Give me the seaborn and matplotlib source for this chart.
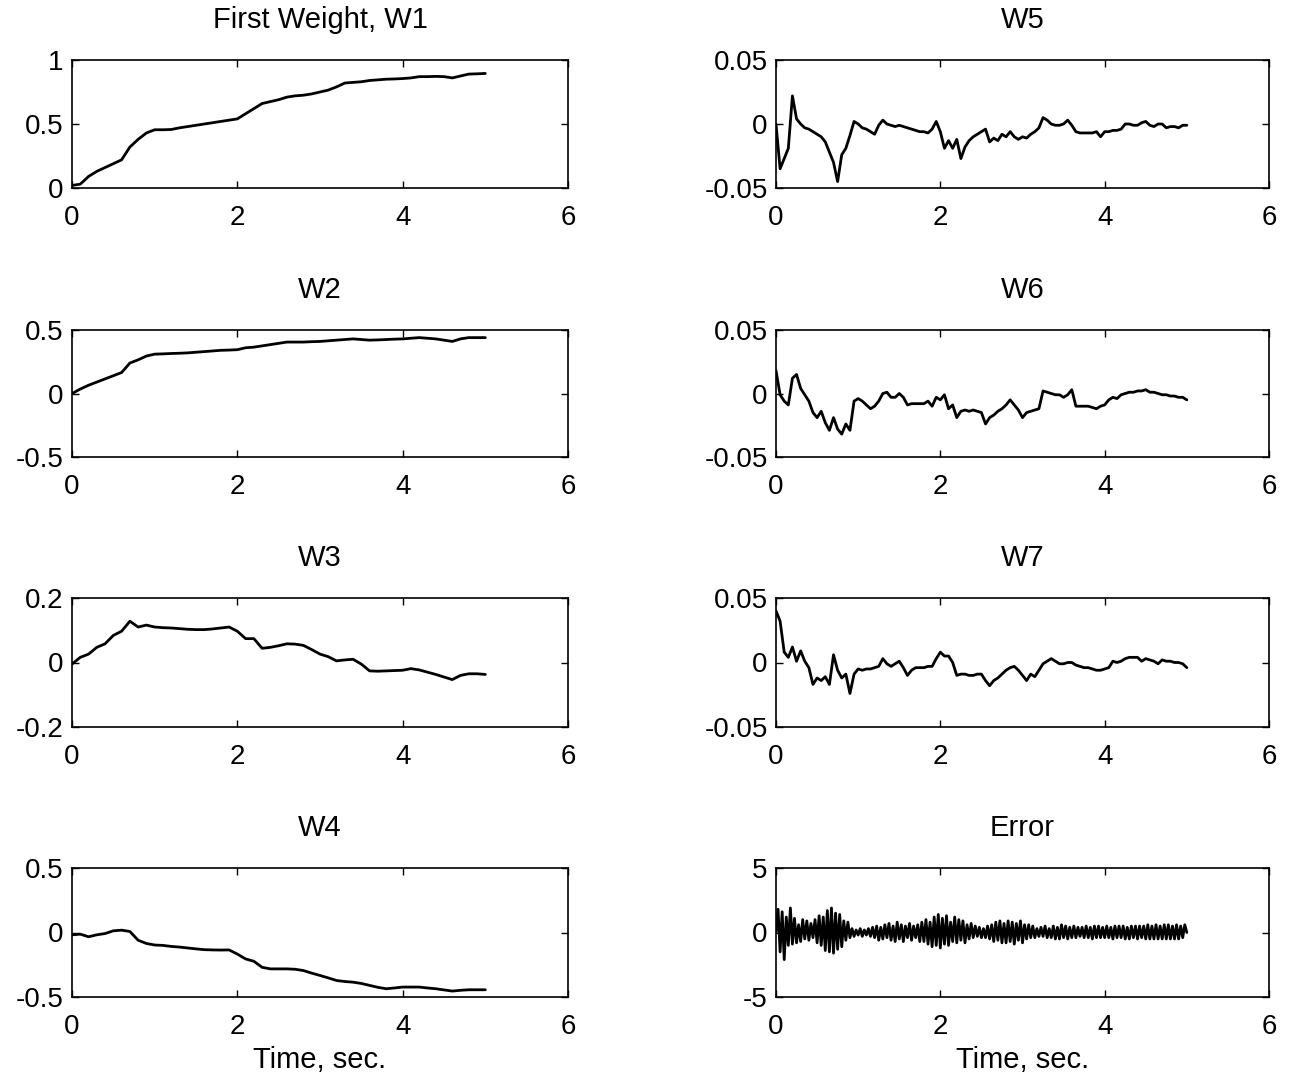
import numpy as np
import matplotlib
matplotlib.use("Agg")
import matplotlib.pyplot as plt
import seaborn as sns

# time grids (sec)
t_smooth = np.arange(51) * 0.1
t_noisy = np.arange(101) * 0.05
t_err = np.arange(201) * 0.025

# values
w1 = [0.02, 0.03, 0.09, 0.13, 0.16, 0.19, 0.22, 0.32, 0.38, 0.43,
      0.455, 0.455, 0.457, 0.47, 0.48, 0.49, 0.50, 0.51, 0.52, 0.53,
      0.54, 0.58, 0.62, 0.66, 0.675, 0.69, 0.71, 0.72, 0.725, 0.735,
      0.75, 0.765, 0.79, 0.82, 0.825, 0.83, 0.84, 0.845, 0.85, 0.852,
      0.855, 0.86, 0.87, 0.87, 0.872, 0.87, 0.86, 0.875, 0.89, 0.892, 0.895]

w2 = [0.0, 0.035, 0.065, 0.09, 0.115, 0.14, 0.165, 0.24, 0.265, 0.295,
      0.31, 0.312, 0.315, 0.317, 0.32, 0.325, 0.33, 0.335, 0.34, 0.342,
      0.345, 0.36, 0.365, 0.375, 0.385, 0.395, 0.405, 0.405, 0.405, 0.408,
      0.41, 0.415, 0.42, 0.425, 0.43, 0.425, 0.42, 0.422, 0.425, 0.428,
      0.43, 0.435, 0.44, 0.435, 0.43, 0.42, 0.41, 0.43, 0.44, 0.44, 0.44]

w3 = [-0.005, 0.016, 0.026, 0.047, 0.058, 0.084, 0.097, 0.128, 0.11, 0.116,
      0.11, 0.108, 0.107, 0.105, 0.103, 0.102, 0.102, 0.104, 0.107, 0.11,
      0.097, 0.074, 0.074, 0.044, 0.047, 0.052, 0.058, 0.057, 0.053, 0.04,
      0.026, 0.018, 0.005, 0.008, 0.01, -0.005, -0.026, -0.027, -0.026, -0.025,
      -0.024, -0.019, -0.023, -0.03, -0.037, -0.045, -0.053, -0.04, -0.035, -0.035, -0.037]

w4 = [-0.018, -0.013, -0.033, -0.018, -0.008, 0.013, 0.018, 0.008, -0.06, -0.085,
      -0.097, -0.1, -0.108, -0.113, -0.12, -0.127, -0.133, -0.135, -0.136, -0.135,
      -0.167, -0.205, -0.223, -0.27, -0.282, -0.282, -0.282, -0.285, -0.295, -0.315,
      -0.333, -0.352, -0.372, -0.38, -0.385, -0.395, -0.41, -0.425, -0.436, -0.43,
      -0.423, -0.423, -0.423, -0.43, -0.436, -0.445, -0.454, -0.448, -0.444, -0.444, -0.444]

w5 = [0.000, -0.035, -0.027, -0.019, 0.022, 0.004, 0.000, -0.003, -0.004, -0.006,
      -0.008, -0.010, -0.014, -0.022, -0.030, -0.045, -0.024, -0.019, -0.009, 0.002,
      0.000, -0.003, -0.004, -0.006, -0.008, -0.001, 0.003, 0.000, -0.001, -0.002,
      -0.001, -0.002, -0.003, -0.004, -0.005, -0.006, -0.006, -0.007, -0.004, 0.002,
      -0.006, -0.019, -0.013, -0.019, -0.012, -0.027, -0.018, -0.013, -0.010, -0.008,
      -0.006, -0.004, -0.014, -0.011, -0.013, -0.008, -0.010, -0.006, -0.010, -0.012,
      -0.010, -0.011, -0.008, -0.006, -0.003, 0.005, 0.003, 0.000, -0.001, -0.001,
      0.000, 0.003, -0.001, -0.006, -0.007, -0.007, -0.007, -0.007, -0.006, -0.010,
      -0.006, -0.006, -0.005, -0.005, -0.004, 0.000, 0.000, -0.001, -0.001, 0.001,
      0.002, -0.001, -0.002, 0.000, 0.000, -0.003, -0.002, -0.002, -0.003, -0.001, -0.001]

w6 = [0.018, -0.001, -0.006, -0.009, 0.012, 0.015, 0.004, -0.001, -0.006, -0.015,
      -0.019, -0.014, -0.023, -0.029, -0.019, -0.028, -0.032, -0.024, -0.029, -0.006,
      -0.004, -0.006, -0.009, -0.012, -0.010, -0.006, 0.000, 0.001, -0.003, -0.003,
      0.000, -0.003, -0.009, -0.008, -0.008, -0.008, -0.008, -0.006, -0.010, -0.003,
      -0.005, -0.001, -0.012, -0.009, -0.019, -0.014, -0.013, -0.014, -0.013, -0.014,
      -0.015, -0.024, -0.019, -0.017, -0.014, -0.012, -0.009, -0.005, -0.009, -0.013,
      -0.019, -0.015, -0.014, -0.013, -0.012, 0.002, 0.001, 0.000, -0.001, -0.001,
      -0.003, -0.001, 0.003, -0.010, -0.010, -0.010, -0.010, -0.011, -0.012, -0.010,
      -0.009, -0.005, -0.003, -0.004, -0.001, 0.000, 0.001, 0.001, 0.002, 0.002,
      0.003, 0.001, 0.001, 0.000, -0.001, -0.001, -0.002, -0.002, -0.003, -0.003, -0.005]

w7 = [0.040, 0.032, 0.008, 0.004, 0.012, 0.001, 0.009, 0.001, -0.004, -0.017,
      -0.012, -0.014, -0.011, -0.017, 0.006, -0.006, -0.012, -0.009, -0.024, -0.009,
      -0.005, -0.006, -0.005, -0.005, -0.004, -0.003, 0.003, -0.001, -0.003, -0.001,
      0.001, -0.004, -0.010, -0.006, -0.004, -0.004, -0.004, -0.003, -0.003, 0.003,
      0.008, 0.005, 0.005, 0.000, -0.010, -0.009, -0.009, -0.010, -0.010, -0.009,
      -0.009, -0.014, -0.018, -0.014, -0.012, -0.009, -0.006, -0.004, -0.003, -0.006,
      -0.010, -0.014, -0.009, -0.011, -0.006, -0.001, 0.001, 0.003, 0.001, -0.001,
      -0.001, 0.000, 0.000, -0.002, -0.003, -0.004, -0.004, -0.005, -0.006, -0.006,
      -0.005, -0.004, 0.001, 0.000, 0.001, 0.003, 0.004, 0.004, 0.004, 0.001,
      0.003, 0.002, 0.001, -0.001, 0.002, 0.001, 0.001, 0.000, 0.000, -0.001, -0.004]

err = [0.0, 1.8, -1.5, 1.6, -2.1, 1.2, -1.0, 1.9,
       -0.9, 1.1, -0.8, 0.6, -0.7, 1.0, -0.5, 0.9,
       -0.6, 0.7, -0.4, 1.0, -0.8, 1.3, -1.0, 1.2,
       -1.4, 1.7, -1.5, 1.9, -1.6, 1.5, -1.3, 1.4,
       -1.1, 0.9, -0.6, 0.8, -0.4, 0.3, -0.3, 0.2,
       -0.2, 0.3, -0.3, 0.2, -0.2, 0.3, -0.3, 0.4,
       -0.4, 0.5, -0.6, 0.4, -0.5, 0.6, -0.4, 0.7,
       -0.6, 0.5, -0.7, 0.8, -0.5, 0.6, -0.7, 0.5,
       -0.4, 0.7, -0.6, 0.5, -0.4, 0.6, -0.7, 0.8,
       -0.7, 1.0, -0.9, 0.8, -1.1, 1.2, -1.0, 1.4,
       -1.2, 1.1, -0.9, 1.3, -1.0, 0.8, -0.7, 1.2,
       -0.8, 1.0, -0.6, 0.9, -0.8, 0.6, -0.5, 0.7,
       -0.4, 0.5, -0.3, 0.4, -0.4, 0.3, -0.4, 0.5,
       -0.5, 0.6, -0.7, 0.8, -0.6, 0.9, -0.8, 0.7,
       -0.8, 0.9, -0.7, 0.8, -0.9, 0.7, -0.6, 0.9,
       -0.8, 0.6, -0.5, 0.6, -0.4, 0.5, -0.4, 0.3,
       -0.3, 0.4, -0.3, 0.5, -0.4, 0.3, -0.4, 0.5,
       -0.5, 0.4, -0.5, 0.6, -0.4, 0.5, -0.5, 0.4,
       -0.4, 0.5, -0.4, 0.4, -0.3, 0.4, -0.4, 0.5,
       -0.4, 0.4, -0.5, 0.5, -0.4, 0.5, -0.4, 0.4,
       -0.4, 0.5, -0.4, 0.4, -0.5, 0.5, -0.4, 0.5,
       -0.4, 0.5, -0.5, 0.4, -0.5, 0.5, -0.4, 0.5,
       -0.5, 0.5, -0.4, 0.5, -0.5, 0.6, -0.5, 0.5,
       -0.5, 0.6, -0.5, 0.5, -0.5, 0.6, -0.5, 0.6,
       -0.5, 0.5, -0.5, 0.6, -0.5, 0.5, -0.4, 0.6,
       0.0]

x_ticks = [0, 2, 4, 6]

sns.set_style("ticks")
plt.rcParams['font.family'] = ['Liberation Sans', 'DejaVu Sans']
plt.rcParams['text.color'] = 'black'
plt.rcParams['axes.labelcolor'] = 'black'

fig = plt.figure(figsize=(12.97, 10.82), dpi=100)

W, H = 1297.0, 1082.0
cols = [(72, 568), (776, 1269)]
rows = [(60, 188), (330, 457), (598, 727), (868, 997)]

panels = [
    # (col, row, title, t, y, ylim, yticks, yticklabels)
    (0, 0, "First Weight, W1", t_smooth, w1, (0, 1), [0, 0.5, 1], ["0", "0.5", "1"]),
    (0, 1, "W2", t_smooth, w2, (-0.5, 0.5), [-0.5, 0, 0.5], ["-0.5", "0", "0.5"]),
    (0, 2, "W3", t_smooth, w3, (-0.2, 0.2), [-0.2, 0, 0.2], ["-0.2", "0", "0.2"]),
    (0, 3, "W4", t_smooth, w4, (-0.5, 0.5), [-0.5, 0, 0.5], ["-0.5", "0", "0.5"]),
    (1, 0, "W5", t_noisy, w5, (-0.05, 0.05), [-0.05, 0, 0.05], ["-0.05", "0", "0.05"]),
    (1, 1, "W6", t_noisy, w6, (-0.05, 0.05), [-0.05, 0, 0.05], ["-0.05", "0", "0.05"]),
    (1, 2, "W7", t_noisy, w7, (-0.05, 0.05), [-0.05, 0, 0.05], ["-0.05", "0", "0.05"]),
    (1, 3, "Error", t_err, err, (-5, 5), [-5, 0, 5], ["-5", "0", "5"]),
]

for c, r, title, t, y, ylim, yt, ytl in panels:
    x0, x1 = cols[c]
    top, bot = rows[r]
    ax = fig.add_axes([x0 / W, 1 - bot / H, (x1 - x0) / W, (bot - top) / H])
    sns.lineplot(x=t, y=y, ax=ax, color="black", linewidth=2.0)
    ax.set_xlim(0, 6)
    ax.set_ylim(*ylim)
    ax.set_xticks(x_ticks)
    ax.set_xticklabels([str(v) for v in x_ticks])
    ax.set_yticks(yt)
    ax.set_yticklabels(ytl)
    ax.tick_params(direction="in", top=True, right=True, length=5,
                   width=1, labelsize=20, colors="black")
    ax.tick_params(axis="x", pad=12.5)
    ax.tick_params(axis="y", pad=6)
    for s in ax.spines.values():
        s.set_linewidth(1.2)
        s.set_color("black")
    ax.set_title(title, fontsize=21, pad=23, color="black")
    ax.set_ylabel("")
    if r == 3:
        ax.set_xlabel("Time, sec.", fontsize=21, labelpad=4)
    else:
        ax.set_xlabel("")

fig.savefig("out.png", dpi=100, facecolor="white")
